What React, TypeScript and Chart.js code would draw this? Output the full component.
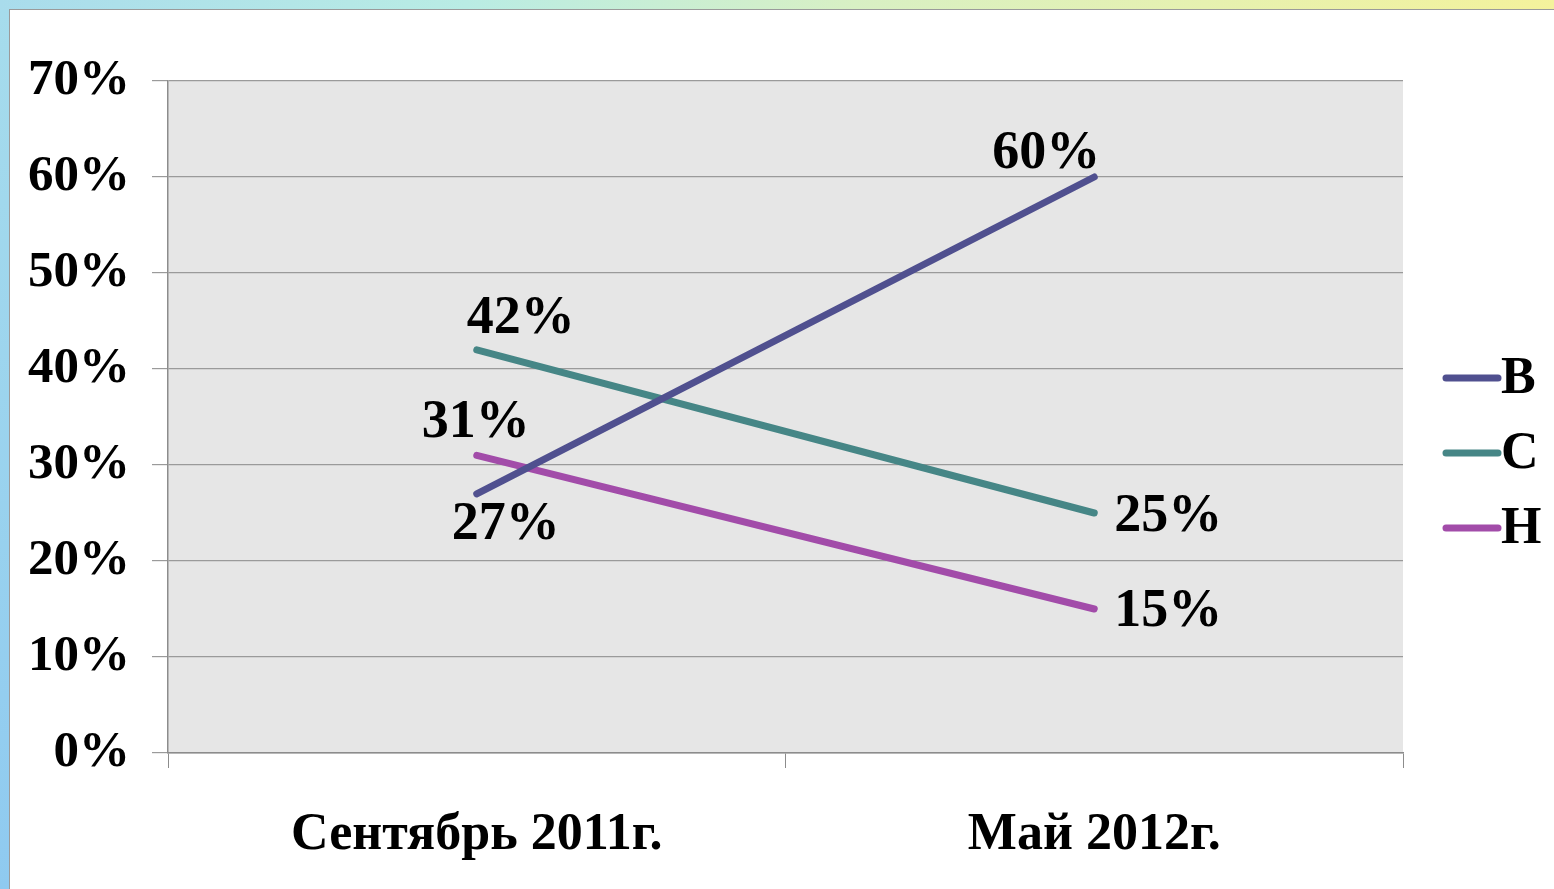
import React, { useEffect, useRef } from "react";
import { Chart, registerables } from "chart.js";

Chart.register(...registerables);

const categories = ["Сентябрь 2011г.", "Май 2012г."];
const seriesNames = ["В", "С", "Н"];
const seriesB = [27, 60];
const seriesC = [42, 25];
const seriesH = [31, 15];
const yTicks = [0, 10, 20, 30, 40, 50, 60, 70];

const colors = ["#50508f", "#468686", "#a24ca9"];
// label offsets (px) relative to the point, per series / per point
const labelOffsets = [
  [[29, 31], [-48, -23]],
  [[44, -31], [74, 4]],
  [[-1, -32], [74, 3]],
];

const FONT = '"Liberation Serif", "Times New Roman", serif';

export default function App() {
  const ref = useRef<HTMLCanvasElement | null>(null);

  useEffect(() => {
    document.body.style.margin = "0";
    const canvas = ref.current!;
    const bgPlugin = {
      id: "bgPlugin",
      beforeDraw(chart: any) {
        const { ctx, chartArea } = chart;
        ctx.save();
        ctx.fillStyle = "#e6e6e6";
        ctx.fillRect(chartArea.left, chartArea.top, chartArea.right - chartArea.left, chartArea.bottom - chartArea.top);
        ctx.restore();
      },
    };
    const labelPlugin = {
      id: "labelPlugin",
      afterDatasetsDraw(chart: any) {
        const { ctx } = chart;
        ctx.save();
        ctx.font = `bold 54px ${FONT}`;
        ctx.fillStyle = "#000";
        ctx.textAlign = "center";
        ctx.textBaseline = "middle";
        chart.data.datasets.forEach((ds: any, i: number) => {
          const meta = chart.getDatasetMeta(i);
          meta.data.forEach((pt: any, j: number) => {
            const [dx, dy] = labelOffsets[i][j];
            ctx.fillText(ds.data[j] + "%", pt.x + dx, pt.y + dy);
          });
        });
        ctx.restore();
      },
    };
    const legendPlugin = {
      id: "customLegend",
      afterDraw(chart: any) {
        const { ctx, chartArea } = chart;
        ctx.save();
        ctx.font = `bold 52px ${FONT}`;
        ctx.textBaseline = "middle";
        ctx.textAlign = "left";
        const n = chart.data.datasets.length;
        const gap = 75;
        const cy = (chartArea.top + chartArea.bottom) / 2 + 36;
        const startY = cy - ((n - 1) * gap) / 2;
        const x0 = chartArea.right + 43;
        chart.data.datasets.forEach((ds: any, i: number) => {
          const y = startY + i * gap;
          ctx.strokeStyle = ds.borderColor;
          ctx.lineWidth = 7;
          ctx.lineCap = "round";
          ctx.beginPath();
          ctx.moveTo(x0, y);
          ctx.lineTo(x0 + 52, y);
          ctx.stroke();
          ctx.fillStyle = "#000";
          ctx.fillText(ds.label, x0 + 55, y + 2);
        });
        ctx.restore();
      },
    };

    const chart = new Chart(canvas, {
      type: "line",
      data: {
        labels: categories,
        datasets: [seriesB, seriesC, seriesH].map((d, i) => ({
          label: seriesNames[i],
          data: d,
          borderColor: colors[i],
          backgroundColor: colors[i],
          borderWidth: 7,
          borderCapStyle: "round" as const,
          pointRadius: 0,
          tension: 0,
        })),
      },
      options: {
        animation: false,
        responsive: false,
        maintainAspectRatio: false,
        layout: { padding: { top: 71, right: 151, left: 0, bottom: 0 } },
        plugins: { legend: { display: false }, tooltip: { enabled: false } },
        scales: {
          x: {
            offset: true,
            grid: { drawOnChartArea: false, drawTicks: true, tickLength: 15, color: "#8c8c8c", offset: true },
            border: { color: "#8c8c8c", width: 1.5 },
            ticks: { font: { family: FONT, size: 52, weight: "bold" }, color: "#000", padding: 36 },
            afterFit(scale: any) {
              scale.height = 136;
            },
          },
          y: {
            min: 0,
            max: 70,
            afterBuildTicks(scale: any) {
              scale.ticks = yTicks.map((v) => ({ value: v }));
            },
            grid: { color: "#9a9a9a", lineWidth: 1.2, tickLength: 16 },
            border: { color: "#8c8c8c", width: 1.5 },
            ticks: {
              font: { family: FONT, size: 51, weight: "bold" },
              color: "#000",
              padding: 22,
              callback: (v: any) => v + "%",
            },
            afterFit(scale: any) {
              scale.width = 158;
            },
          },
        },
      },
      plugins: [bgPlugin, labelPlugin, legendPlugin],
    });
    return () => chart.destroy();
  }, []);

  return (
    <div
      style={{
        position: "fixed",
        left: 0,
        top: 0,
        width: 1554,
        height: 889,
        background: "linear-gradient(90deg, #a9dcec 0%, #b9ece4 30%, #d8f0c4 55%, #f4f29c 100%)",
        overflow: "hidden",
      }}
    >
      <div
        style={{
          position: "absolute",
          left: 0,
          top: 10,
          width: 10,
          height: 879,
          background: "linear-gradient(180deg, #a6dcec 0%, #8fcaf0 100%)",
        }}
      />
      <div
        style={{
          position: "absolute",
          left: 9,
          top: 9,
          width: 1545,
          height: 880,
          background: "#fff",
          borderTop: "1.5px solid #9a9a9a",
          borderLeft: "1.5px solid #9a9a9a",
          boxSizing: "border-box",
        }}
      >
        <canvas ref={ref} width={1544} height={879} style={{ position: "absolute", left: 0, top: 0, width: 1544, height: 879 }} />
      </div>
    </div>
  );
}
